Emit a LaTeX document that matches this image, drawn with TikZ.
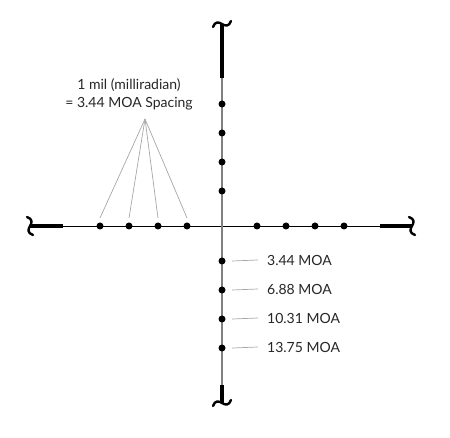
\documentclass[tikz,border=0pt]{standalone}
\usepackage{fontspec}
\setmainfont{Lato}
\begin{document}
\begin{tikzpicture}[x=1pt,y=-1pt,line join=round]
	\tikzset{dot/.style={circle,fill=black,inner sep=0pt,minimum size=7pt},
		lead/.style={draw=black!35,line width=0.7pt},
		lab/.style={font=\fontsize{14}{18}\selectfont,text=black!85,inner sep=0pt},
		bar/.style={line width=4pt},
		squig/.pic={\draw[line width=2.4pt,line cap=round] (-9,3) .. controls (-7,-3) and (-3,-2) .. (0,0) .. controls (3,2) and (7,3) .. (9,-3);}}
	\useasboundingbox (0,0) rectangle (450,438);
	% ends of the cross hairs
	\coordinate (c) at (222,226);
	\coordinate (L) at (30,226); \coordinate (Lb) at (63,226);
	\coordinate (R) at (412,226); \coordinate (Rb) at (380,226);
	\coordinate (T) at (222,24); \coordinate (Tb) at (222,78);
	\coordinate (B) at (222,403); \coordinate (Bb) at (222,385);
	\draw[line width=0.9pt] (L)--(R);
	\draw[black!50,line width=1.4pt] (T)--(B);
	\draw[bar] (L)--(Lb) (R)--(Rb) (T)--(Tb) (B)--(Bb);
	\pic[rotate=90] at (L) {squig};
	\pic[rotate=90] at (R) {squig};
	\pic at (T) {squig};
	\pic at (B) {squig};
	% dots, one mil apart
	\foreach \d [count=\i] in {35,64,93,122}{
		\node[dot] (l\i) at (222-\d,226) {};
		\node[dot] (r\i) at (222+\d,226) {};
		\node[dot] (u\i) at (222,226-\d) {};
		\node[dot] (d\i) at (222,226+\d) {};
	}
	\node[lab,align=center] (title) at (129,94) {1 mil (milliradian)\\= 3.44 MOA Spacing};
	\coordinate (apex) at (145,119);
	\foreach \i in {1,...,4}
	\draw[lead] (apex)--([yshift=8pt]l\i.center);
	\foreach \i/\t in {1/3.44,2/6.88,3/10.31,4/13.75}{
		\node[lab,anchor=west] (m\i) at (267,226+5+29*\i) {\t\ MOA};
		\draw[lead] ([xshift=6.5pt]d\i.east)--([xshift=-9pt]m\i.west);
	}
\end{tikzpicture}
\end{document}
